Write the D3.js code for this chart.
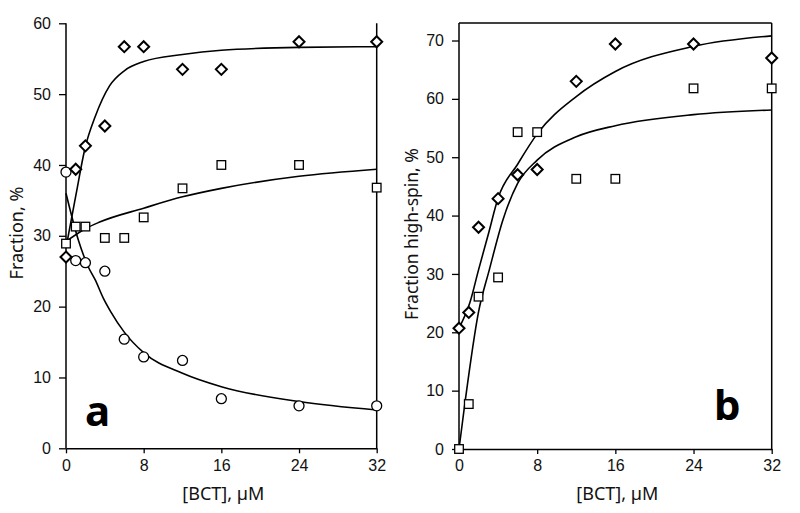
<!DOCTYPE html>
<html>
<head>
<meta charset="utf-8">
<script src="https://cdn.jsdelivr.net/npm/d3@7"></script>
<style>
  html, body { margin: 0; padding: 0; background: #fff; }
  svg { display: block; }
</style>
</head>
<body>
<svg id="chart" width="800" height="513"></svg>
<script>
// ---- data ----
const bct = [0, 1, 2, 4, 6, 8, 12, 16, 24, 32];
const xTicks = [0, 8, 16, 24, 32];
const aYTicks = [0, 10, 20, 30, 40, 50, 60];
const bYTicks = [0, 10, 20, 30, 40, 50, 60, 70];

// panel a markers
const aDiamond = [27.0, 39.4, 42.7, 45.5, 56.7, 56.7, 53.5, 53.5, 57.4, 57.4];
const aSquare  = [28.9, 31.3, 31.3, 29.7, 29.7, 32.6, 36.7, 40.0, 40.0, 36.8];
const aCircle  = [39.0, 26.5, 26.2, 25.0, 15.4, 12.9, 12.4, 7.0, 6.0, 6.0];
// panel b markers
const bDiamond = [20.7, 23.4, 38.0, 42.9, 47.0, 47.9, 63.0, 69.4, 69.4, 67.0];
const bSquare  = [0, 7.7, 26.1, 29.4, 54.3, 54.3, 46.3, 46.3, 61.8, 61.8];

// fitted curves
const aDiamondFitX = [0, 1, 2, 3, 4.5, 6, 8, 12, 16, 24, 32];
const aDiamondFitY = [28.3, 35.6, 42.6, 46.8, 51.2, 53.3, 54.6, 55.6, 56.2, 56.6, 56.7];
const aSquareFitX  = [0, 2, 3.4, 8, 12, 16, 24, 32];
const aSquareFitY  = [29.2, 31.0, 31.9, 33.9, 35.5, 36.7, 38.4, 39.4];
const aCircleFitX  = [0, 1.27, 2.3, 3, 3.84, 4.6, 6, 8, 12, 16, 24, 32];
const aCircleFitY  = [36.0, 29.4, 25.6, 23.8, 21.2, 19.3, 16.4, 13.5, 10.6, 8.7, 6.6, 5.4];
const bDiamondFitX = [0, 1.1, 2, 3, 4, 6, 8, 12, 16, 24, 32];
const bDiamondFitY = [20.7, 25.0, 30.7, 36.8, 43.0, 48.8, 54.0, 60.4, 64.7, 69.0, 70.8];
const bSquareFitX  = [0, 0.6, 2, 3.1, 4.5, 6, 8, 12, 16, 24, 32];
const bSquareFitY  = [0, 7.8, 23.5, 30.7, 39.3, 45.5, 49.5, 53.5, 55.4, 57.3, 58.1];

// ---- drawing ----
const svg = d3.select("#chart");
const tickFont = "'Liberation Sans', Arial, sans-serif";
const titleFont = "'Noto Sans', 'Open Sans', sans-serif";

function panel(opts) {
  const g = svg.append("g");
  const x = d3.scaleLinear().domain([0, 32]).range([opts.left, opts.right]);
  const y = d3.scaleLinear().domain([0, opts.yMax]).range([opts.bottom, opts.top]);

  // frame lines
  const frame = g.append("g").attr("stroke", "#000").attr("stroke-width", 1.5).attr("fill", "none");
  frame.append("line").attr("x1", x(32)).attr("x2", x(32)).attr("y1", opts.top).attr("y2", opts.bottom);
  if (opts.topLine) frame.append("line").attr("x1", x(0)).attr("x2", x(32)).attr("y1", opts.top).attr("y2", opts.top);

  const xAxis = d3.axisBottom(x).tickValues(xTicks).tickSize(5).tickPadding(6).tickSizeOuter(0);
  const gx = g.append("g").attr("transform", `translate(0,${opts.bottom})`).call(xAxis);
  const yAxis = d3.axisLeft(y).tickValues(opts.yTicks).tickSize(7).tickPadding(8).tickSizeOuter(0);
  const gy = g.append("g").attr("transform", `translate(${opts.left},0)`).call(yAxis);
  [gx, gy].forEach(a => {
    a.select(".domain").attr("stroke", "#000").attr("stroke-width", 1.5);
    a.selectAll(".tick line").attr("stroke", "#000").attr("stroke-width", 1.3);
    a.selectAll(".tick text").attr("fill", "#111").style("font-family", tickFont).style("font-size", "16px");
  });
  gy.select(".domain").attr("d", `M0,${opts.bottom}V${opts.top}`);

  // curves
  const line = d3.line().x(d => x(d[0])).y(d => y(d[1])).curve(d3.curveMonotoneX);
  opts.fits.forEach(f => {
    const pts = f[0].map((v, i) => [v, f[1][i]]);
    g.append("path").attr("d", line(pts)).attr("fill", "none").attr("stroke", "#000").attr("stroke-width", 1.6);
  });

  // markers
  opts.series.forEach(s => {
    const mg = g.append("g").attr("fill", "#fff").attr("stroke", "#000");
    s.values.forEach((v, i) => {
      const cx = x(bct[i]), cy = y(v);
      if (s.shape === "diamond") {
        mg.append("path").attr("d", `M${cx},${cy - 5.5}L${cx + 5.5},${cy}L${cx},${cy + 5.5}L${cx - 5.5},${cy}Z`)
          .attr("stroke-width", 2);
      } else if (s.shape === "square") {
        mg.append("rect").attr("x", cx - 4.3).attr("y", cy - 4.3).attr("width", 8.6).attr("height", 8.6)
          .attr("stroke-width", 1.3);
      } else {
        mg.append("circle").attr("cx", cx).attr("cy", cy).attr("r", 5).attr("stroke-width", 1.3);
      }
    });
  });

  // titles
  g.append("text").attr("x", (opts.left + opts.right) / 2 + 2).attr("y", 500)
    .attr("text-anchor", "middle").style("font-family", titleFont).style("font-size", "18px").attr("fill", "#111")
    .text("[BCT], µM");
  g.append("text").attr("transform", `translate(${opts.yTitleX},${opts.yTitleY}) rotate(-90)`)
    .attr("text-anchor", "middle").style("font-family", titleFont).style("font-size", opts.yTitleSize).attr("fill", "#111")
    .text(opts.yTitle);
  g.append("text").attr("x", opts.letterX).attr("y", opts.letterY)
    .style("font-family", titleFont).style("font-weight", "bold").style("font-size", "42px").attr("fill", "#000")
    .text(opts.letter);
}

panel({
  left: 66, right: 376.7, top: 23.3, bottom: 448.3, yMax: 60, yTicks: aYTicks, topLine: false,
  fits: [[aDiamondFitX, aDiamondFitY], [aSquareFitX, aSquareFitY], [aCircleFitX, aCircleFitY]],
  series: [{shape: "circle", values: aCircle}, {shape: "square", values: aSquare}, {shape: "diamond", values: aDiamond}],
  yTitle: "Fraction, %", yTitleX: 23, yTitleY: 233, yTitleSize: "18px",
  letter: "a", letterX: 85, letterY: 426
});
panel({
  left: 459, right: 771.7, top: 23, bottom: 449, yMax: 73, yTicks: bYTicks, topLine: true,
  fits: [[bDiamondFitX, bDiamondFitY], [bSquareFitX, bSquareFitY]],
  series: [{shape: "square", values: bSquare}, {shape: "diamond", values: bDiamond}],
  yTitle: "Fraction high-spin, %", yTitleX: 418, yTitleY: 234, yTitleSize: "17.5px",
  letter: "b", letterX: 714, letterY: 420
});
</script>
</body>
</html>
